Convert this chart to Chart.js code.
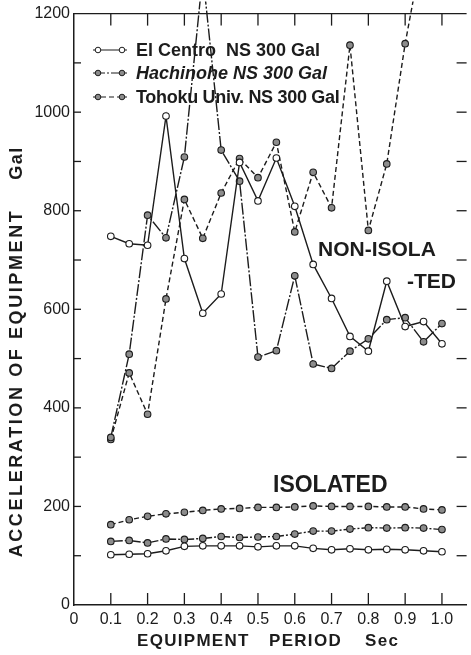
<!DOCTYPE html>
<html>
<head>
<meta charset="utf-8">
<script src="https://cdn.jsdelivr.net/npm/chart.js@4.4.0/dist/chart.umd.min.js"></script>
<style>
  html, body { margin: 0; padding: 0; background: #fff; }
  #wrap { width: 471px; height: 655px; }
</style>
</head>
<body>
<div id="wrap"><canvas id="chart" width="471" height="655"></canvas></div>
<script>
// equipment period, sec
const periods = [0.1, 0.15, 0.2, 0.25, 0.3, 0.35, 0.4, 0.45, 0.5, 0.55, 0.6, 0.65, 0.7, 0.75, 0.8, 0.85, 0.9, 0.95, 1.0];

// non-isolated response, Gal
const elCentroNon = [748, 733, 730, 992, 703, 592, 631, 898, 820, 907, 809, 691, 622, 545, 515, 657, 565, 575, 530];
const hachinoheNon = [340, 509, 791, 745, 909, 1280, 923, 860, 503, 516, 668, 489, 480, 515, 540, 579, 583, 534, 571];
const tohokuNon = [336, 471, 387, 621, 823, 744, 836, 906, 867, 939, 757, 878, 806, 1136, 760, 895, 1139, 1340, 1400];

// isolated response, Gal
const elCentroIso = [102, 103, 104, 110, 119, 120, 120, 120, 118, 120, 120, 115, 112, 114, 112, 113, 112, 110, 108];
const hachinoheIso = [129, 131, 126, 134, 133, 135, 139, 137, 138, 139, 144, 150, 150, 154, 157, 156, 157, 156, 153];
const tohokuIso = [163, 173, 180, 185, 188, 192, 195, 196, 198, 198, 199, 201, 200, 200, 200, 199, 199, 195, 193];

const legendLabels = ["El Centro  NS 300 Gal", "Hachinohe NS 300 Gal", "Tohoku Univ. NS 300 Gal"];

const xLabelValues = [0, 0.1, 0.2, 0.3, 0.4, 0.5, 0.6, 0.7, 0.8, 0.9, 1.0];
const xTickMarks = [0.1, 0.2, 0.3, 0.4, 0.5, 0.6, 0.7, 0.8, 0.9, 1.0];
const yLabelValues = [0, 200, 400, 600, 800, 1000, 1200];
const yTickMarks = [100, 200, 300, 400, 500, 600, 700, 800, 900, 1000, 1100];

const ink = "#1c1c1c";
const grayFill = "#8c8c8c";
const numFont = "'Liberation Sans', Arial, sans-serif";

const styles = [
    { dash: [], fill: "#ffffff" },          // El Centro
    { dash: [12, 2, 2, 2], fill: grayFill },  // Hachinohe
    { dash: [5, 3], fill: grayFill }          // Tohoku
];

function makeSet(label, values, style) {
    return {
        label: label,
        data: periods.map((p, i) => ({ x: p, y: values[i] })),
        borderColor: ink,
        borderWidth: 1.4,
        borderDash: style.dash,
        pointRadius: 3.3,
        pointHoverRadius: 3.3,
        pointBackgroundColor: style.fill,
        pointBorderColor: ink,
        pointBorderWidth: 1.1,
        tension: 0,
        clip: { left: 4, top: 12, right: 4, bottom: 4 }
    };
}

const datasets = [
    makeSet(legendLabels[0], elCentroNon, styles[0]),
    makeSet(legendLabels[1], hachinoheNon, styles[1]),
    makeSet(legendLabels[2], tohokuNon, styles[2]),
    makeSet("El Centro isolated", elCentroIso, styles[0]),
    makeSet("Hachinohe isolated", hachinoheIso, styles[1]),
    makeSet("Tohoku isolated", tohokuIso, styles[2])
];

function seg(ctx, x1, y1, x2, y2) {
    ctx.beginPath();
    ctx.moveTo(x1, y1);
    ctx.lineTo(x2, y2);
    ctx.stroke();
}

// frame and inward tick marks
const framePlugin = {
    id: "frame",
    afterDraw(chart) {
        const { ctx, chartArea: a, scales } = chart;
        const x = scales.x, y = scales.y;
        ctx.save();
        ctx.strokeStyle = ink;
        ctx.lineWidth = 1.3;
        seg(ctx, a.left, a.top, a.right, a.top);
        xTickMarks.forEach((v) => {
            const px = x.getPixelForValue(v);
            seg(ctx, px, a.top, px, a.top + 12);
            seg(ctx, px, a.bottom, px, a.bottom - 12);
        });
        yTickMarks.forEach((v) => {
            const py = y.getPixelForValue(v);
            seg(ctx, a.left, py, a.left + 7, py);
            seg(ctx, a.right - 10, py, a.right, py);
        });
        ctx.restore();
    }
};

// legend, curve labels and axis titles
const textPlugin = {
    id: "texts",
    afterDraw(chart) {
        const ctx = chart.ctx;
        ctx.save();
        ctx.fillStyle = ink;
        ctx.textBaseline = "middle";

        // legend
        const rows = [50, 73, 97];
        rows.forEach((ry, i) => {
            const ds = chart.data.datasets[i];
            ctx.strokeStyle = ink;
            ctx.lineWidth = 1.2;
            ctx.setLineDash(ds.borderDash);
            seg(ctx, 93, ry, 127, ry);
            ctx.setLineDash([]);
            [98, 122].forEach((mx) => {
                ctx.beginPath();
                ctx.arc(mx, ry, 2.8, 0, Math.PI * 2);
                ctx.fillStyle = ds.pointBackgroundColor;
                ctx.fill();
                ctx.lineWidth = 1;
                ctx.stroke();
            });
            ctx.fillStyle = ink;
            ctx.font = (i === 1 ? "italic " : "") + "bold 18px " + numFont;
            ctx.letterSpacing = i === 2 ? "-0.3px" : "0px";
            ctx.textAlign = "left";
            ctx.fillText(ds.label, 136, ry + 1);
        });
        ctx.letterSpacing = "0px";

        // curve group labels
        ctx.font = "bold 21px " + numFont;
        ctx.fillText("NON-ISOLA", 318, 250);
        ctx.fillText("-TED", 407, 282);
        ctx.font = "bold 23px " + numFont;
        ctx.fillText("ISOLATED", 273, 486);

        // x title
        ctx.font = "bold 17px " + numFont;
        ctx.letterSpacing = "1.3px";
        ctx.fillText("EQUIPMENT", 137, 641);
        ctx.fillText("PERIOD", 269, 641);
        ctx.fillText("Sec", 365, 641);

        // y title
        ctx.translate(17, 0);
        ctx.rotate(-Math.PI / 2);
        ctx.textAlign = "center";
        ctx.font = "bold 18px " + numFont;
        ctx.letterSpacing = "2.6px";
        ctx.fillText("ACCELERATION OF EQUIPMENT", -383, 0);
        ctx.letterSpacing = "1.5px";
        ctx.fillText("Gal", -163, 0);
        ctx.restore();
    }
};

new Chart(document.getElementById("chart"), {
    type: "line",
    data: { datasets: datasets },
    options: {
        responsive: false,
        animation: false,
        devicePixelRatio: 1,
        layout: { padding: { top: 10, right: 0, bottom: 0, left: 0 } },
        plugins: {
            legend: { display: false },
            tooltip: { enabled: false },
            title: { display: false }
        },
        scales: {
            x: {
                type: "linear",
                min: 0,
                max: 1.067,
                afterBuildTicks: (scale) => {
                    scale.ticks = xLabelValues.map((v) => ({ value: v }));
                },
                afterFit: (scale) => {
                    scale.height = 50;
                },
                grid: { display: false, drawTicks: false },
                border: { display: true, color: ink, width: 1.5 },
                ticks: {
                    autoSkip: false,
                    maxRotation: 0,
                    padding: 5,
                    color: ink,
                    font: { family: numFont, size: 16 },
                    callback: (v) => (v === 0 ? "0" : v.toFixed(1))
                }
            },
            y: {
                min: 0,
                max: 1200,
                afterBuildTicks: (scale) => {
                    scale.ticks = yLabelValues.map((v) => ({ value: v }));
                },
                afterFit: (scale) => {
                    scale.width = 74;
                },
                grid: { display: false, drawTicks: false },
                border: { display: true, color: ink, width: 1.5 },
                ticks: {
                    padding: 4,
                    color: ink,
                    font: { family: numFont, size: 16 },
                    callback: (v) => String(v)
                }
            }
        }
    },
    plugins: [framePlugin, textPlugin]
});
</script>
</body>
</html>
